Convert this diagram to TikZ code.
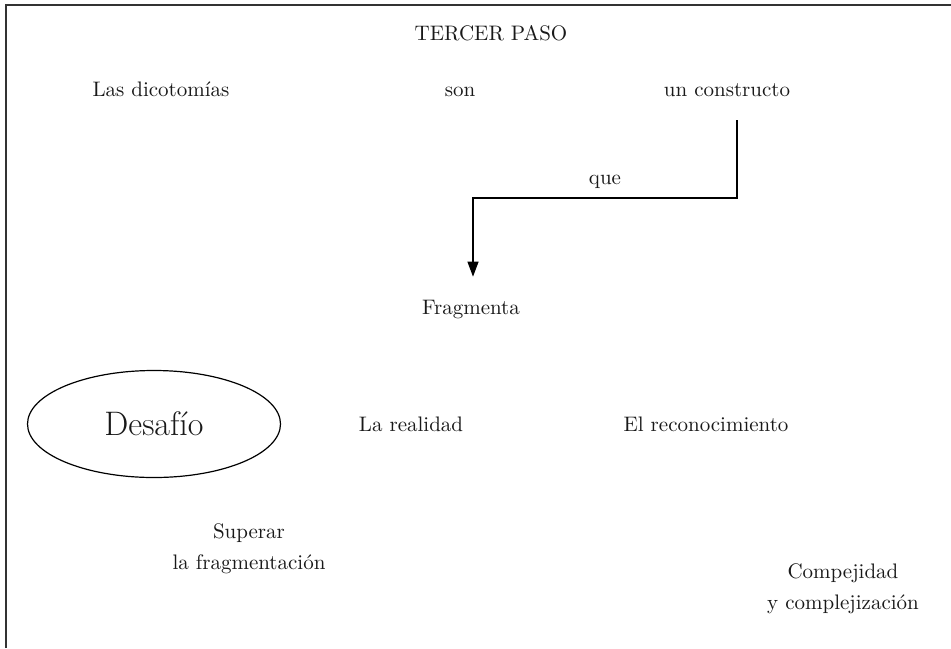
\documentclass[tikz,border=0pt]{standalone}
\usepackage{tikz}
\usetikzlibrary{shapes.geometric,arrows.meta,positioning}
\usepackage{xcolor}

\begin{document}
\begin{tikzpicture}[x=0.5pt,y=-0.5pt,
    every node/.style={font=\fontsize{10.5}{15.5}\selectfont, text=black!90},
    label/.style={anchor=base, align=center},
    arr/.style={-{Triangle[width=5.5pt,length=7.5pt]}, line width=0.6pt}]
            \def\W{951}
            \def\H{648}
            \def\rowA{96}
            \def\rowB{431}

            \useasboundingbox (0,0) rectangle (\W,\H);
            \draw[line width=0.8pt, black!80] (6,\H) -- (6,5) -- (\W,5);

            \node[label] (paso) at (491,40) {TERCER PASO};
            \node[label] (dicot) at (161,\rowA) {Las dicotomías};
            \node[label] (son) at (460,\rowA) {son};
            \node[label] (constructo) at (727,\rowA) {un constructo};
            \node[label] (frag) at (471,314) {Fragmenta};

            \node[ellipse, draw, line width=0.6pt, minimum width=126.5pt, minimum height=53.5pt,
                  font=\fontsize{17}{20}\selectfont] (desafio) at (154,424) {Desafío};
            \node[label] (realidad) at (411,\rowB) {La realidad};
            \node[label] (recon) at (706,\rowB) {El reconocimiento};

            \node[label] (superar) at (249,569) {Superar\\la fragmentación};
            \node[label] (compej) at (843,609) {Compejidad\\y complejización};

            \coordinate (qstart) at (737,120);
            \coordinate (qturn) at (737,198);
            \draw[arr, shorten >=8pt] (qstart) -- (qturn) -| node[pos=0.25, above=1pt] {que} ([xshift=1pt]frag.north);
        \end{tikzpicture}
\end{document}
